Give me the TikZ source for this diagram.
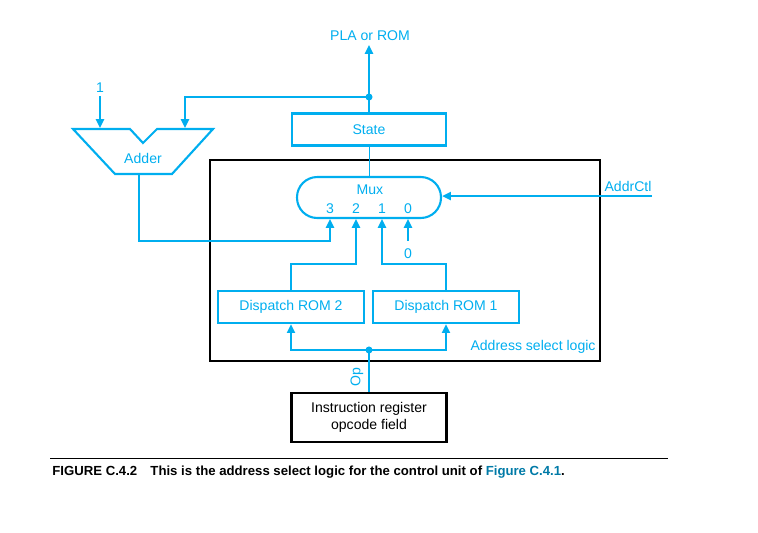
\documentclass[tikz,border=0pt]{standalone}
\usepackage{fontspec}
\setmainfont{Liberation Sans}
\usepackage{tikz}
\usetikzlibrary{arrows.meta,calc,positioning}
\definecolor{wirecyan}{RGB}{0,174,239}

\tikzset{
  wire/.style={wirecyan, line width=1.2pt},
  arr/.style={wire, -{Triangle[length=5pt,width=4.5pt]}},
  lbl/.style={text=wirecyan, font=\fontsize{8}{9.5}\selectfont, inner sep=0pt},
  blk/.style={draw=wirecyan, line width=1.2pt, minimum height=0.64cm, text=wirecyan,
    font=\fontsize{8}{9.5}\selectfont},
  dot/.style={circle, fill=wirecyan, inner sep=0pt, minimum size=4pt}
}

\begin{document}
\begin{tikzpicture}[x=0.02cm, y=-0.02cm, >=Stealth]
  \useasboundingbox (0,0) rectangle (758,532);

  % Address select logic frame
  \draw[line width=0.6pt] (210,160) rectangle (600,361);
  \node[lbl] (asl) at (533,347) {Address select logic};

  % State and PLA
  \node[blk, minimum width=3.08cm] (state) at (369,129.5) {State};
  \node[lbl] (pla) at (370,36) {PLA or ROM};
  \node[dot] (jtop) at (369,97) {};
  \draw[arr] (state.north) -- (jtop.center) -- (369,45);

  % Adder
  \draw[wire] (73,129) -- (130,129) -- (143,143) -- (157,129) -- (213,129)
    -- (172,174) -- (115,174) -- cycle;
  \node[lbl] (adder) at (143,158) {Adder};
  \node[lbl] (one) at (100,88) {1};
  \coordinate (addout) at (139,174);
  \draw[arr] (100,96) -- (100,128);
  \draw[arr] (jtop.center) -| (185,128);

  % Mux
  \node[draw=wirecyan, line width=1.2pt, rounded corners=11.5pt, minimum width=2.88cm,
    minimum height=0.82cm] (mux) at (369,197.5) {};
  \node[lbl] (muxt) at (370,190) {Mux};
  \foreach \n/\x in {3/330, 2/356, 1/382, 0/408}
    \node[lbl] (in\n) at (\x,209) {\n};
  \draw[wirecyan, line width=0.5pt] (state.south) -- (mux.north);
  \node[lbl] (addrctl) at (628,186) {AddrCtl};
  \draw[arr] (652,196) -- (mux.east |- 0,196);
  \draw[arr] (addout) |- (330,241) -- (330,219);
  \node[lbl] (zero) at (408,254) {0};
  \draw[arr] (408,241) -- (408,219);

  % Dispatch ROMs
  \node[blk, minimum width=2.92cm] (rom2) at (291,307) {Dispatch ROM 2};
  \node[blk, minimum width=2.92cm] (rom1) at (446,307) {Dispatch ROM 1};
  \draw[arr] (rom2.north) |- (356,264) -- (356,219);
  \draw[arr] (rom1.north) |- (382,264) -- (382,219);

  % Instruction register
  \node[draw, line width=1.2pt, minimum width=3.1cm, minimum height=0.98cm, align=center,
    font=\fontsize{8}{10}\selectfont] (ir) at (369,417.5)
    {Instruction register\\opcode field};
  \node[dot] (jbot) at (369,350) {};
  \draw[wire] (ir.north) -- (jbot.center);
  \draw[arr] (jbot.center) -| (rom2.south);
  \draw[arr] (jbot.center) -| (rom1.south);
  \node[lbl, rotate=90] (op) at (357,377) {Op};

  % Caption
  \draw[line width=0.5pt] (50,458) -- (668,458);
  \node[anchor=west, inner sep=0pt, font=\fontsize{7.5}{9}\selectfont\bfseries] (cap) at (52,472)
    {FIGURE C.4.2\quad This is the address select logic for the control unit of
     \textcolor{wirecyan!70!black}{Figure C.4.1}.};
\end{tikzpicture}
\end{document}
